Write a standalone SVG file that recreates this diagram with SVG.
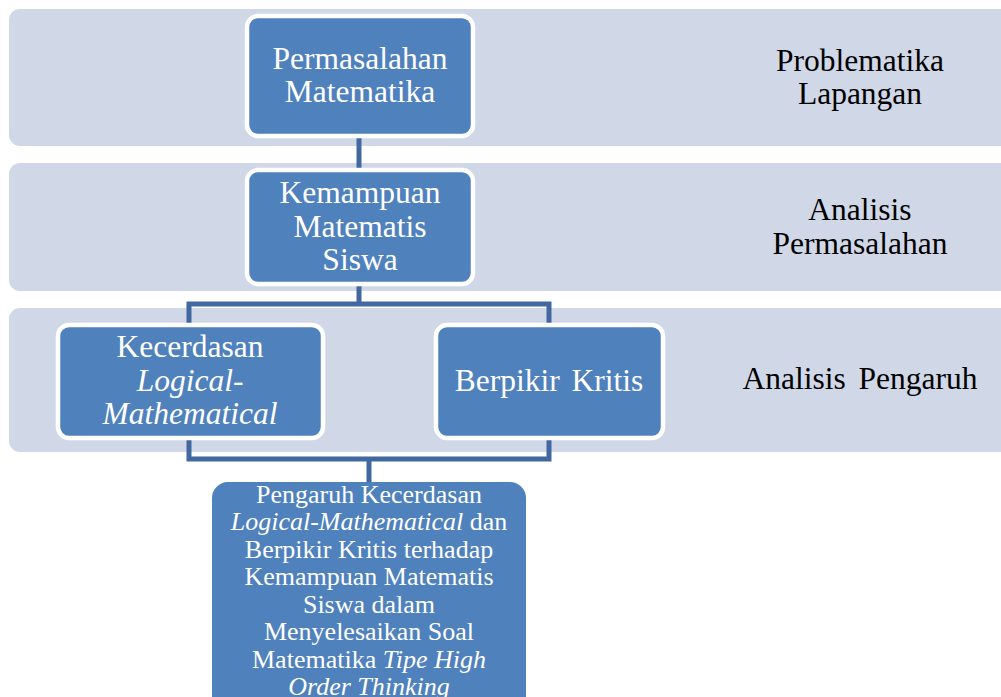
<svg xmlns="http://www.w3.org/2000/svg" width="1001" height="697" viewBox="0 0 1001 697">
<style>
.band{fill:#d0d8e8}
.node{fill:#4f81bd;stroke:#ffffff;stroke-width:4.5}
.final{fill:#4f81bd}
.conn{fill:none;stroke:#41699f;stroke-width:5}
</style>
<rect width="1001" height="697" fill="#ffffff"/>
<g id="bands">
<rect class="band" x="9" y="9" width="1010" height="137" rx="11"/>
<rect class="band" x="9" y="163" width="1010" height="128" rx="11"/>
<rect class="band" x="9" y="308" width="1010" height="144" rx="11"/>
</g>
<g id="labels" fill="#000000" text-anchor="middle">
<text x="860" y="71" font-family="'Liberation Serif', serif" font-size="31.5">Problematika</text>
<text x="860" y="104" font-family="'Liberation Serif', serif" font-size="31.5">Lapangan</text>
<text x="860" y="220" font-family="'Liberation Serif', serif" font-size="31.5">Analisis</text>
<text x="860" y="254" font-family="'Liberation Serif', serif" font-size="31.5">Permasalahan</text>
<text x="860" y="389" font-family="'Liberation Serif', serif" font-size="31.5" word-spacing="5">Analisis Pengaruh</text>
</g>
<g id="connectors">
<line class="conn" x1="359" y1="136" x2="359" y2="170"/>
<polyline class="conn" points="189,325 189,304 549,304 549,325"/>
<line class="conn" x1="359" y1="284" x2="359" y2="304"/>
<polyline class="conn" points="189,437 189,459 549,459 549,437"/>
<line class="conn" x1="369" y1="459" x2="369" y2="484"/>
</g>
<g id="node-permasalahan" fill="#ffffff" text-anchor="middle">
<rect class="node" x="247" y="16" width="226" height="120" rx="11"/>
<text x="360" y="69" font-family="'Liberation Serif', serif" font-size="31.5">Permasalahan</text>
<text x="360" y="102" font-family="'Liberation Serif', serif" font-size="31.5">Matematika</text>
</g>
<g id="node-kemampuan" fill="#ffffff" text-anchor="middle">
<rect class="node" x="247" y="170" width="226" height="114" rx="11"/>
<text x="360" y="203" font-family="'Liberation Serif', serif" font-size="31.5">Kemampuan</text>
<text x="360" y="237" font-family="'Liberation Serif', serif" font-size="31.5">Matematis</text>
<text x="360" y="270" font-family="'Liberation Serif', serif" font-size="31.5">Siswa</text>
</g>
<g id="node-kecerdasan" fill="#ffffff" text-anchor="middle">
<rect class="node" x="58" y="325" width="265" height="113" rx="11"/>
<text x="190" y="357" font-family="'Liberation Serif', serif" font-size="31.5">Kecerdasan</text>
<text x="190" y="391" font-family="'Liberation Serif', serif" font-size="31.5" font-style="italic">Logical-</text>
<text x="190" y="424" font-family="'Liberation Serif', serif" font-size="31.5" font-style="italic">Mathematical</text>
</g>
<g id="node-berpikir" fill="#ffffff" text-anchor="middle">
<rect class="node" x="436" y="325" width="227" height="113" rx="11"/>
<text x="549" y="391" font-family="'Liberation Serif', serif" font-size="31.5" word-spacing="4">Berpikir Kritis</text>
</g>
<g id="node-pengaruh" fill="#ffffff" text-anchor="middle">
<rect class="final" x="212" y="482" width="314" height="240" rx="16"/>
<text x="369" y="503" font-family="'Liberation Serif', serif" font-size="26">Pengaruh Kecerdasan</text>
<text x="369" y="530" font-family="'Liberation Serif', serif" font-size="26"><tspan font-style="italic">Logical-Mathematical</tspan> dan</text>
<text x="369" y="558" font-family="'Liberation Serif', serif" font-size="26">Berpikir Kritis terhadap</text>
<text x="369" y="585" font-family="'Liberation Serif', serif" font-size="26">Kemampuan Matematis</text>
<text x="369" y="613" font-family="'Liberation Serif', serif" font-size="26">Siswa dalam</text>
<text x="369" y="640" font-family="'Liberation Serif', serif" font-size="26">Menyelesaikan Soal</text>
<text x="369" y="668" font-family="'Liberation Serif', serif" font-size="26">Matematika <tspan font-style="italic">Tipe High</tspan></text>
<text x="369" y="695" font-family="'Liberation Serif', serif" font-size="26" font-style="italic">Order Thinking</text>
</g>
</svg>
